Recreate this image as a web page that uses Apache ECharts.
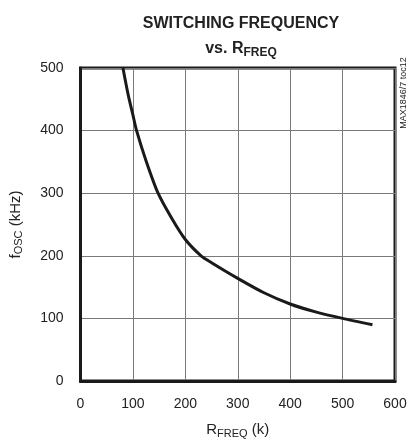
<!DOCTYPE html>
<html>
<head>
<meta charset="utf-8">
<script src="https://cdn.jsdelivr.net/npm/echarts@6/dist/echarts.min.js"></script>
<style>
  html, body { margin: 0; padding: 0; background: #fff; }
  #chart { width: 417px; height: 444px; }
</style>
</head>
<body>
<div id="chart"></div>
<script>
// R_FREQ (k) and switching frequency (kHz)
var rFreq = [81, 91, 100, 107, 125, 148, 174, 200, 230, 250, 300, 350, 400, 450, 500, 557];
var fOsc  = [500, 457, 425, 400, 352, 300, 260, 226, 200, 189, 164, 141, 123, 110, 100, 90];

var xTicks = [0, 100, 200, 300, 400, 500, 600];
var yTicks = [0, 100, 200, 300, 400, 500];

var FONT = '"Liberation Sans", Arial, sans-serif';

var seriesData = [];
for (var i = 0; i < rFreq.length; i++) {
    seriesData.push([rFreq[i], fOsc[i]]);
}

var myChart = echarts.init(document.getElementById('chart'));

var option = {
    backgroundColor: '#fff',
    animation: false,
    title: {
        text: '{t|SWITCHING FREQUENCY}\n{t|vs. R}{ts|FREQ}',
        left: 236,
        textAlign: 'center',
        top: 6,
        textStyle: {
            rich: {
                t: { fontFamily: FONT, fontWeight: 'bold', fontSize: 16, color: '#222', lineHeight: 25 },
                ts: { fontFamily: FONT, fontWeight: 'bold', fontSize: 12, color: '#222', lineHeight: 25, padding: [8, 0, 0, 0] }
            }
        }
    },
    grid: {
        left: 79,
        right: 22,
        top: 68,
        bottom: 60,
        show: true,
        borderColor: '#1a1a1a',
        borderWidth: 3
    },
    xAxis: {
        type: 'value',
        min: xTicks[0],
        max: xTicks[xTicks.length - 1],
        interval: 100,
        name: '{n|R}{s|FREQ}{n| (k)}',
        nameLocation: 'middle',
        nameGap: 40,
        nameTextStyle: {
            rich: {
                n: { fontFamily: FONT, fontSize: 15, color: '#222' },
                s: { fontFamily: FONT, fontSize: 11, color: '#222', padding: [7, 0, 0, 0] }
            }
        },
        axisLine: { show: true, lineStyle: { color: '#1a1a1a', width: 3 } },
        axisTick: { show: false },
        axisLabel: { fontFamily: FONT, fontSize: 14, color: '#222', margin: 16 },
        splitLine: { show: true, lineStyle: { color: '#7a7a7a', width: 1 } }
    },
    yAxis: {
        type: 'value',
        min: yTicks[0],
        max: yTicks[yTicks.length - 1],
        interval: 100,
        name: '{n|f}{s|OSC}{n| (kHz)}',
        nameLocation: 'middle',
        nameGap: 56,
        nameRotate: 90,
        nameTextStyle: {
            rich: {
                n: { fontFamily: FONT, fontSize: 15, color: '#222' },
                s: { fontFamily: FONT, fontSize: 11, color: '#222', padding: [7, 0, 0, 0] }
            }
        },
        axisLine: { show: true, lineStyle: { color: '#1a1a1a', width: 3 } },
        axisTick: { show: false },
        axisLabel: { fontFamily: FONT, fontSize: 14, color: '#222', margin: 17 },
        splitLine: { show: true, lineStyle: { color: '#7a7a7a', width: 1 } }
    },
    graphic: [
        {
            type: 'text',
            x: 404,
            y: 93,
            rotation: Math.PI / 2,
            style: {
                text: 'MAX1846/7 toc12',
                fontFamily: FONT,
                fontSize: 9,
                fill: '#222',
                align: 'center',
                verticalAlign: 'middle'
            }
        }
    ],
    series: [
        {
            type: 'line',
            data: seriesData,
            showSymbol: false,
            smooth: 0.25,
            lineStyle: { color: '#1a1a1a', width: 3 },
            clip: true
        }
    ]
};

myChart.setOption(option);
</script>
</body>
</html>
